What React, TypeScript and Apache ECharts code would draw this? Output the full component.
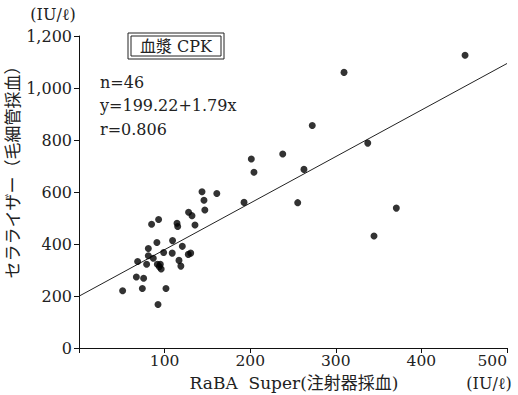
import React, { useEffect, useRef } from "react";
import * as echarts from "echarts";

const xValues = [51, 67, 68.5, 74, 75.5, 79, 81, 86.8, 81, 91, 84.8, 93, 92.3, 91.5, 93.8, 96, 95, 98.9, 101.6, 109.3, 108.9, 114.5, 115.3, 116.8, 119, 120.7, 127.7, 130.5, 128, 132, 135.5, 143.7, 146, 147, 161, 192.8, 201.3, 204.4, 238, 255.5, 262.8, 272.5, 309.6, 337.3, 344.6, 370.7, 451];
const yValues = [220, 273, 333, 229, 268, 322, 355, 345, 383, 406, 476, 494, 167, 322, 313, 304, 322, 367, 229, 413, 365, 480, 467, 337, 315, 391, 360, 365, 522, 509, 473, 601, 568, 531, 594, 560, 727, 676, 746, 559, 687, 856, 1060, 788, 431, 538, 1126];
const intercept = 199.22;
const slope = 1.79;
const lineXs = [0, 500];
const statLines = ["n=46", "y=199.22+1.79x", "r=0.806"];

const SERIF = "'DejaVu Serif', 'Liberation Serif', 'Noto Sans CJK JP', serif";
const CJK = "'DejaVu Serif', 'Noto Sans CJK JP', serif";

export default function App() {
  const ref = useRef<HTMLDivElement>(null);
  useEffect(() => {
    document.body.style.margin = "0";
    if (!ref.current) return;
    const chart = echarts.init(ref.current, null, { renderer: "svg" });
    const points = xValues.map((x, i) => [x, yValues[i]]);
    const line = lineXs.map((x) => [x, intercept + slope * x]);
    chart.setOption({
      animation: false,
      backgroundColor: "#fff",
      grid: { left: 79, right: 11, top: 36, bottom: 47, containLabel: false, outerBoundsMode: "none" },
      xAxis: {
        type: "value",
        min: 0,
        max: 500,
        interval: 100,
        axisLine: { show: true, lineStyle: { color: "#111", width: 1 } },
        axisTick: { show: true, length: 5, lineStyle: { color: "#111" } },
        splitLine: { show: false },
        axisLabel: {
          color: "#222",
          fontFamily: SERIF,
          fontSize: 15.5,
          margin: 5,
          alignMaxLabel: "right",
          formatter: (v: number) => (v === 0 ? "" : String(v)),
        },
      },
      yAxis: {
        type: "value",
        min: 0,
        max: 1200,
        interval: 200,
        axisLine: { show: true, lineStyle: { color: "#111", width: 1 } },
        axisTick: { show: true, length: 5, lineStyle: { color: "#111" } },
        splitLine: { show: false },
        axisLabel: {
          color: "#222",
          fontFamily: SERIF,
          fontSize: 16,
          margin: 7,
          formatter: (v: number) => v.toLocaleString("en-US"),
        },
      },
      series: [
        {
          type: "line",
          data: line,
          symbol: "none",
          lineStyle: { color: "#222", width: 1 },
          z: 1,
        },
        {
          type: "scatter",
          data: points,
          symbolSize: 7,
          itemStyle: { color: "#000" },
          z: 2,
        },
      ],
      graphic: [
        {
          type: "text",
          x: 53,
          y: 14,
          style: { text: "(IU/ℓ)", font: `16px ${SERIF}`, fill: "#222", align: "center", verticalAlign: "middle" },
        },
        {
          type: "text",
          x: 13,
          y: 168,
          rotation: Math.PI / 2,
          style: {
            text: "セラライザー（毛細管採血）",
            font: `17px ${CJK}`,
            fill: "#222",
            align: "center",
            verticalAlign: "middle",
          },
        },
        {
          type: "text",
          x: 294,
          y: 383,
          style: {
            text: "RaBA  Super(注射器採血)",
            font: `17px ${CJK}`,
            fill: "#222",
            align: "center",
            verticalAlign: "middle",
          },
        },
        {
          type: "text",
          x: 489,
          y: 383,
          style: {
            text: "(IU/ℓ)",
            font: `16px ${SERIF}`,
            fill: "#222",
            align: "center",
            verticalAlign: "middle",
          },
        },
        {
          type: "rect",
          shape: { x: 128, y: 33, width: 96, height: 26 },
          style: { fill: "none", stroke: "#222", lineWidth: 1 },
        },
        {
          type: "rect",
          shape: { x: 131, y: 36, width: 90, height: 20 },
          style: { fill: "none", stroke: "#222", lineWidth: 1 },
        },
        {
          type: "text",
          x: 176,
          y: 46,
          style: {
            text: "血漿 CPK",
            font: `16px ${CJK}`,
            fill: "#222",
            align: "center",
            verticalAlign: "middle",
          },
        },
        ...statLines.map((t, i) => ({
          type: "text",
          x: 100,
          y: 82 + i * 23.5,
          style: {
            text: t,
            font: `16px ${SERIF}`,
            fill: "#222",
            verticalAlign: "middle",
          },
        })),
      ],
    });
    return () => chart.dispose();
  }, []);
  return <div ref={ref} style={{ width: 518, height: 395 }} />;
}
